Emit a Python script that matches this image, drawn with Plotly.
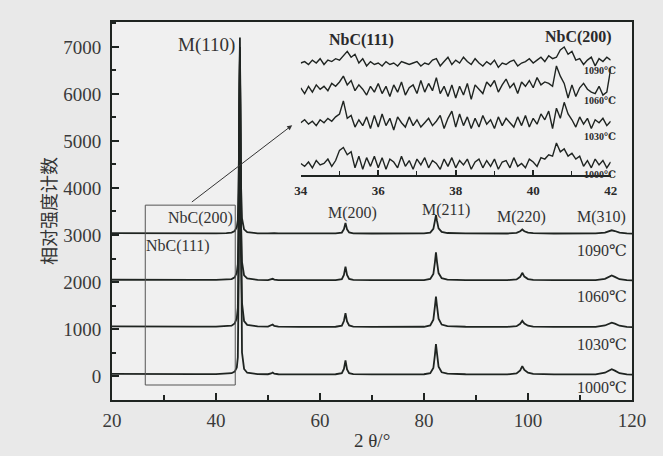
import plotly.graph_objects as go

# ---------------- main XRD patterns ----------------
TWO_THETA = [20, 24, 28, 32, 36, 40, 42, 43, 43.6, 44.0, 44.2, 44.4, 44.5, 44.6, 44.7, 44.8, 45.0, 45.4,
             46, 48, 50, 50.6, 50.9, 51.2, 52, 56, 60, 63, 64.2, 64.6, 64.9, 65.2, 65.6, 66.4, 70, 75, 80,
             81.2, 81.8, 82.1, 82.3, 82.5, 82.8, 83.4, 84.5, 88, 92, 96, 97.8, 98.5, 98.9, 99.3, 100, 101,
             105, 110, 113, 114.8, 115.6, 116.1, 116.7, 117.6, 119, 120]

I_1000 = [45, 40, 38, 36, 40, 42, 48, 60, 95, 180, 400, 2500, 5600, 7200, 5200, 2200, 500, 150,
          70, 40, 38, 55, 75, 50, 38, 35, 33, 38, 60, 150, 330, 140, 60, 40, 35, 30, 38,
          60, 170, 450, 680, 480, 200, 80, 50, 38, 32, 35, 55, 120, 210, 130, 70, 45,
          35, 30, 35, 70, 120, 145, 115, 60, 35, 30]
I_1030 = [55, 50, 48, 45, 50, 52, 58, 70, 120, 230, 450, 2300, 4600, 5850, 4000, 1600, 550, 170,
          90, 55, 50, 75, 95, 65, 50, 45, 42, 48, 70, 170, 335, 160, 75, 52, 45, 40, 48,
          75, 200, 480, 690, 490, 220, 95, 60, 48, 42, 45, 60, 110, 175, 115, 70, 52,
          45, 40, 45, 75, 120, 135, 115, 70, 45, 40]
I_1060 = [48, 44, 42, 40, 44, 45, 50, 62, 100, 200, 380, 1900, 3800, 4740, 3300, 1300, 420, 140,
          75, 45, 42, 55, 68, 50, 42, 40, 38, 42, 62, 150, 326, 150, 65, 45, 40, 36, 42,
          65, 170, 420, 631, 430, 190, 80, 52, 42, 36, 40, 55, 110, 196, 115, 62, 45,
          40, 36, 40, 68, 115, 141, 110, 60, 40, 36]
I_1090 = [38, 35, 33, 32, 35, 36, 40, 50, 85, 170, 320, 1600, 3200, 4000, 2800, 1100, 350, 120,
          60, 36, 34, 42, 50, 40, 34, 32, 30, 34, 52, 125, 258, 120, 55, 36, 32, 30, 34,
          52, 130, 300, 423, 300, 140, 65, 42, 34, 30, 32, 45, 80, 118, 80, 50, 38,
          32, 30, 33, 52, 85, 100, 85, 50, 34, 30]

SAMPLES = ["1000℃", "1030℃", "1060℃", "1090℃"]
PROFILES = [I_1000, I_1030, I_1060, I_1090]
OFFSETS = [0, 1000, 2000, 3000]

# ---------------- inset (34-42 deg, magnified) ----------------
INSET_2THETA = [round(34 + i * 0.1, 1) for i in range(81)]
N_1000 = [0, -2, 1, -3, 2, -1, 0, 3, -2, 2,
          9, 11, 6, 8, -3, 5, -4, 4, -2, 5,
          -3, 4, -4, 3, 1, -3, 5, -2, 2, -4,
          3, -1, 4, -3, 2, 0, -4, 3, -2, 4,
          -3, 2, -1, 3, -4, 1, 3, -3, 2, -2,
          3, -4, 1, 2, -3, 4, -2, 0, -3, 3,
          1, -2, 4, 3, 6, 5, 14, 8, 10, 5,
          7, 3, 5, -2, 2, -3, 3, -1, 2, -3,
          1]
N_1030 = [0, 2, -1, 1, -2, 2, 0, 3, 1, 4,
          6, 15, 3, 5, -3, 2, -2, 4, -4, 5,
          -3, 6, -2, 3, -5, 4, 0, -3, 4, -2,
          2, -3, 0, 3, -2, 1, 5, -4, 3, 8,
          -3, 6, -2, 4, -4, 3, -3, 5, -1, 2,
          -4, 4, -2, 3, 0, -3, 4, -2, 5, -3,
          3, -1, 6, 2, 8, -4, 10, 3, 14, 6,
          2, -3, 4, -1, 3, -4, 2, 0, 3, -2,
          1]
N_1060 = [1, -3, 2, -2, 3, 0, 2, -1, 4, 2,
          5, 9, 3, 6, -1, 3, 0, -4, 2, -2,
          4, -3, 2, -5, 3, -2, 5, -4, 1, 3,
          -3, 6, -2, 4, -1, 8, -3, 2, -5, 3,
          -6, 2, -4, 4, -7, 3, 0, -3, 5, 2,
          6, -2, 3, 7, 1, 4, -3, 5, 2, 6,
          1, 8, 3, 5, 4, 2, 16, 9, 4, -6,
          3, -5, 1, 4, 0, -2, -3, 2, -4, -2,
          14]
N_1090 = [0, 1, -1, 2, 0, 3, -1, 2, 1, 3,
          2, 5, 8, 4, 6, 0, 3, -2, 1, -1,
          0, -2, 1, -1, 0, -2, 1, 0, -1, 0,
          1, -2, 0, -1, 2, 3, -2, 1, 4, -1,
          2, 0, 4, 1, -1, 3, 0, -2, 1, -1,
          2, -3, 0, -1, 1, 2, -2, 0, 1, 3,
          0, 2, 4, 1, 5, 3, 4, 9, 11, 6,
          8, 2, 3, -1, 2, 4, -2, 3, 1, 4,
          2]
INSET_PROFILES = [N_1000, N_1030, N_1060, N_1090]
INSET_OFFSETS = [8, 36, 59, 77]

PEAK_LABELS = ["M(200)", "M(211)", "M(220)", "M(310)"]
PEAK_LABEL_X = [66.3, 84.2, 98.7, 114.2]
PEAK_LABEL_Y = [3459, 3530, 3386, 3386]

LINE = "#1f2421"
TXT = "#333333"
SERIF = "Liberation Serif, Times New Roman, DejaVu Serif, serif"

fig = go.Figure()
for name, prof, off in zip(SAMPLES, PROFILES, OFFSETS):
    fig.add_trace(go.Scatter(x=TWO_THETA, y=[v + off for v in prof], mode="lines", name=name,
                             line=dict(color=LINE, width=1.8), xaxis="x", yaxis="y",
                             hoverinfo="skip", showlegend=False))
for name, prof, off in zip(SAMPLES, INSET_PROFILES, INSET_OFFSETS):
    fig.add_trace(go.Scatter(x=INSET_2THETA, y=[v + off for v in prof], mode="lines", name=name,
                             line=dict(color=LINE, width=1.4), xaxis="x2", yaxis="y2",
                             hoverinfo="skip", showlegend=False))

fig.update_layout(
    width=663, height=456,
    margin=dict(l=112, r=31, t=22, b=56),
    paper_bgcolor="#e9e9e9", plot_bgcolor="#f0f0f0",
    showlegend=False,
    xaxis=dict(range=[20, 120], tick0=20, dtick=20, ticks="inside", ticklen=7, tickwidth=1.5,
               tickcolor=LINE, showline=True, linewidth=2, linecolor=LINE, mirror=True,
               showgrid=False, zeroline=False, ticklabelstandoff=2,
               tickfont=dict(family=SERIF, size=19, color="#3a3a3a"),
               minor=dict(dtick=10, ticks="inside", ticklen=5, tickwidth=1.5, tickcolor=LINE,
                          showgrid=False)),
    yaxis=dict(range=[-510, 7531], tick0=0, dtick=1000, ticks="inside", ticklen=7, tickwidth=1.5,
               tickcolor=LINE, showline=True, linewidth=2, linecolor=LINE, mirror=True,
               showgrid=False, zeroline=False, ticklabelstandoff=5,
               tickfont=dict(family=SERIF, size=19, color="#3a3a3a"),
               minor=dict(dtick=500, ticks="inside", ticklen=4, tickwidth=1.5, tickcolor=LINE,
                          showgrid=False)),
    xaxis2=dict(domain=[0.363, 0.959], anchor="y2", range=[34, 42], tick0=34, dtick=2,
                ticks="inside", ticklen=5, tickwidth=1.5, tickcolor=LINE, showline=True,
                linewidth=1.8, linecolor=LINE, showgrid=False, zeroline=False,
                ticklabelstandoff=2,
                tickfont=dict(family=SERIF, size=13, color="#2a2a2a", weight="bold"),
                minor=dict(dtick=1, ticks="inside", ticklen=4, tickwidth=1.2, tickcolor=LINE,
                           showgrid=False)),
    yaxis2=dict(domain=[0.595, 0.98], anchor="x2", range=[0, 100], visible=False),
)

# zoom rectangle
fig.add_shape(type="rect", xref="x", yref="y", x0=26.4, x1=43.7, y0=-191, y1=3635,
              line=dict(color="#555555", width=1))

ann = []
ann.append(dict(x=54.65, y=5336, ax=35.07, ay=3678, xref="x", yref="y", axref="x", ayref="y",
                text="", showarrow=True, arrowhead=2, arrowsize=1, arrowwidth=1, arrowcolor="#333"))
ann.append(dict(x=38.1, y=7037, xref="x", yref="y", text="M(110)", showarrow=False,
                font=dict(family=SERIF, size=19, color=TXT)))
ann.append(dict(x=37.0, y=3352, xref="x", yref="y", text="NbC(200)", showarrow=False,
                font=dict(family=SERIF, size=16, color=TXT)))
ann.append(dict(x=32.7, y=2764, xref="x", yref="y", text="NbC(111)", showarrow=False,
                font=dict(family=SERIF, size=16, color=TXT)))
for t, x, y in zip(PEAK_LABELS, PEAK_LABEL_X, PEAK_LABEL_Y):
    ann.append(dict(x=x, y=y, xref="x", yref="y", text=t, showarrow=False,
                    font=dict(family=SERIF, size=16, color=TXT)))
for t, y in zip(SAMPLES, [-240, 680, 1686, 2679]):
    ann.append(dict(x=119.5, y=y, xref="x", yref="y", text=t, showarrow=False, xanchor="right",
                    font=dict(family=SERIF, size=16, color=TXT)))
# inset labels
ann.append(dict(x=35.57, y=92.9, xref="x2", yref="y2", text="NbC(111)", showarrow=False,
                font=dict(family=SERIF, size=16, color="#2a2a2a", weight="bold")))
ann.append(dict(x=41.17, y=95.1, xref="x2", yref="y2", text="NbC(200)", showarrow=False,
                font=dict(family=SERIF, size=16, color="#2a2a2a", weight="bold")))
for t, y in zip(SAMPLES, [0.3, 26.4, 51.6, 72.2]):
    ann.append(dict(x=41.72, y=y, xref="x2", yref="y2", text=t, showarrow=False,
                    font=dict(family=SERIF, size=10, color="#2a2a2a", weight="bold")))
# axis titles
ann.append(dict(x=(48 - 112) / 520, y=0.5, xref="paper", yref="paper", text="相对强度计数",
                textangle=-90, showarrow=False, xanchor="center", yanchor="middle",
                font=dict(family="Noto Sans CJK SC", size=18, color=TXT)))
ann.append(dict(x=0.5, y=-0.106, xref="paper", yref="paper", text="2 θ/°", showarrow=False,
                xanchor="center", yanchor="middle",
                font=dict(family=SERIF, size=19, color=TXT)))
fig.update_layout(annotations=ann)

fig.write_html("out.html")
